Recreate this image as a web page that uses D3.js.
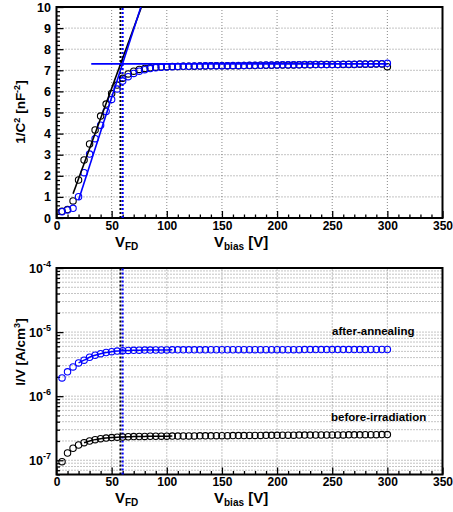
<!DOCTYPE html>
<html><head><meta charset="utf-8">
<script src="https://cdn.jsdelivr.net/npm/d3@7"></script>
<style>
body{margin:0;background:#fff}
svg{display:block}
text{font-family:"Liberation Sans",Arial,Helvetica,sans-serif;font-weight:bold;fill:#000}
</style>
</head><body><svg id="c" width="453" height="512"></svg>
<script>
// ---------- data ----------
const voltages = [5,10,15,20,25,30,35,40,45,50,55,60,65,70,75,80,85,90,95,100,
  105,110,115,120,125,130,135,140,145,150,155,160,165,170,175,180,185,190,195,200,
  205,210,215,220,225,230,235,240,245,250,255,260,265,270,275,280,285,290,295,300];

// 1/C^2 [nF^-2]
const cvBefore = [0.32,0.40,0.81,1.80,2.75,3.51,4.17,4.83,5.40,5.90,
  6.30,6.62,6.83,6.96,7.04,7.09,7.12,7.15,7.16,7.17,
  7.18,7.18,7.19,7.19,7.19,7.20,7.20,7.21,7.21,7.21,
  7.22,7.22,7.22,7.23,7.23,7.23,7.24,7.24,7.24,7.25,
  7.25,7.25,7.25,7.26,7.26,7.26,7.27,7.27,7.27,7.27,
  7.28,7.28,7.28,7.28,7.29,7.29,7.29,7.30,7.30,7.17];
const cvAfter = [0.30,0.38,0.46,1.01,2.15,3.03,3.76,4.40,5.05,5.62,
  6.11,6.49,6.70,6.85,6.96,7.03,7.08,7.12,7.14,7.16,
  7.17,7.18,7.19,7.19,7.20,7.20,7.21,7.21,7.22,7.22,
  7.22,7.23,7.23,7.23,7.24,7.24,7.24,7.25,7.25,7.25,
  7.26,7.26,7.26,7.26,7.27,7.27,7.27,7.28,7.28,7.28,
  7.28,7.29,7.29,7.29,7.30,7.30,7.30,7.31,7.31,7.33];

// I/V [A/cm^3]
const ivBefore = [0.95e-7,1.30e-7,1.54e-7,1.73e-7,1.88e-7,2.00e-7,2.10e-7,2.17e-7,2.22e-7,2.26e-7,
  2.29e-7,2.31e-7,2.33e-7,2.34e-7,2.35e-7,2.36e-7,2.37e-7,2.37e-7,2.38e-7,2.38e-7,
  2.39e-7,2.39e-7,2.40e-7,2.40e-7,2.40e-7,2.41e-7,2.41e-7,2.41e-7,2.42e-7,2.42e-7,
  2.42e-7,2.43e-7,2.43e-7,2.43e-7,2.44e-7,2.44e-7,2.44e-7,2.45e-7,2.45e-7,2.45e-7,
  2.46e-7,2.46e-7,2.46e-7,2.47e-7,2.47e-7,2.47e-7,2.48e-7,2.48e-7,2.48e-7,2.49e-7,
  2.49e-7,2.49e-7,2.50e-7,2.50e-7,2.50e-7,2.51e-7,2.51e-7,2.51e-7,2.52e-7,2.52e-7];
const ivAfter = [1.93e-6,2.40e-6,2.86e-6,3.30e-6,3.65e-6,4.05e-6,4.35e-6,4.60e-6,4.80e-6,4.95e-6,
  5.05e-6,5.12e-6,5.17e-6,5.20e-6,5.22e-6,5.24e-6,5.25e-6,5.26e-6,5.27e-6,5.27e-6,
  5.28e-6,5.28e-6,5.28e-6,5.29e-6,5.29e-6,5.29e-6,5.29e-6,5.30e-6,5.30e-6,5.30e-6,
  5.30e-6,5.30e-6,5.31e-6,5.31e-6,5.31e-6,5.31e-6,5.31e-6,5.31e-6,5.32e-6,5.32e-6,
  5.32e-6,5.32e-6,5.32e-6,5.32e-6,5.33e-6,5.33e-6,5.33e-6,5.33e-6,5.33e-6,5.33e-6,
  5.34e-6,5.34e-6,5.34e-6,5.34e-6,5.34e-6,5.34e-6,5.35e-6,5.35e-6,5.35e-6,5.35e-6];

// linear fits on 1/C^2 (endpoints in data units)
const fitBeforeV = [15, 77];   const fitBeforeC = [1.15, 10.0];
const fitAfterV  = [20, 76.5]; const fitAfterC  = [0.85, 10.0];
const plateauV = [31.5, 300];  const plateauC = [7.3, 7.3];
// full depletion voltages
const vfdBefore = 58, vfdAfter = 60;
// I-V fit ranges
const ivFitBeforeRange = [25, 105];
const ivFitAfterRange = [20, 105];

const xTicksMajor = [0,50,100,150,200,250,300,350];
const cvTicksMajor = [0,1,2,3,4,5,6,7,8,9,10];
const ivDecades = [-7,-6,-5,-4];
const ivLabels = ["after-annealing","before-irradiation"];

// ---------- drawing ----------
const svg = d3.select("#c");
const BLUE = "#0000ff", BLACK = "#000000", GRID = "#6a6a6a";
const L = 56.5, R = 442.5;
const x = d3.scaleLinear([0,350],[L,R]);
const yTop = d3.scaleLinear([0,10],[218,7]);
const yBot = d3.scaleLog([6e-8,1e-4],[474.5,268]);

const xMinor = d3.range(0,351,10).filter(v=>v%50!==0);

function panel(y, opts){
  const g = svg.append("g");
  const [y0,y1] = y.range();
  const id = "clip"+opts.name;
  svg.append("clipPath").attr("id",id).append("rect")
    .attr("x",L).attr("y",y1).attr("width",R-L).attr("height",y0-y1);
  // grid
  const grid = g.append("g").attr("stroke",GRID).attr("stroke-width",0.8).attr("stroke-dasharray","1,2");
  xTicksMajor.filter(v=>v>0&&v<350).forEach(v=>{
    grid.append("line").attr("x1",x(v)).attr("x2",x(v)).attr("y1",y0).attr("y2",y1);
  });
  opts.hgrid.forEach(v=>{
    grid.append("line").attr("x1",L).attr("x2",R).attr("y1",y(v)).attr("y2",y(v));
  });
  // x axis ticks
  const ax = g.append("g").attr("transform",`translate(0,${y0})`)
    .call(d3.axisBottom(x).tickValues(xTicksMajor).tickSize(-7).tickSizeOuter(0).tickPadding(3).tickFormat(d3.format("d")));
  ax.select(".domain").remove();
  ax.selectAll("line").attr("stroke",BLACK).attr("stroke-width",1.3);
  ax.selectAll("text").attr("font-size",12).attr("font-family",null);
  const axm = g.append("g").attr("transform",`translate(0,${y0})`)
    .call(d3.axisBottom(x).tickValues(xMinor).tickSize(-3.5).tickSizeOuter(0).tickFormat(""));
  axm.select(".domain").remove();
  axm.selectAll("line").attr("stroke",BLACK).attr("stroke-width",1.3);
  // y axis ticks
  const ay = g.append("g").attr("transform",`translate(${L},0)`)
    .call(d3.axisLeft(y).tickValues(opts.yMajor).tickSize(-7).tickSizeOuter(0).tickPadding(5.5).tickFormat(opts.yFmt||""));
  ay.select(".domain").remove();
  ay.selectAll("line").attr("stroke",BLACK).attr("stroke-width",1.3);
  ay.selectAll("text").attr("font-size",12.5).attr("font-family",null);
  const aym = g.append("g").attr("transform",`translate(${L},0)`)
    .call(d3.axisLeft(y).tickValues(opts.yMinor).tickSize(-3.5).tickSizeOuter(0).tickFormat(""));
  aym.select(".domain").remove();
  aym.selectAll("line").attr("stroke",BLACK).attr("stroke-width",1.3);
  // frame
  g.append("rect").attr("x",L).attr("y",y1).attr("width",R-L).attr("height",y0-y1)
    .attr("fill","none").attr("stroke",BLACK).attr("stroke-width",2);
  // vertical V_FD lines
  [[vfdBefore,BLACK],[vfdAfter,BLUE]].forEach(([v,c])=>{
    g.append("line").attr("x1",x(v)).attr("x2",x(v)).attr("y1",y0).attr("y2",y1)
      .attr("stroke",c).attr("stroke-width",2).attr("stroke-dasharray","2,2");
  });
  // x axis title
  const tf = g.append("text").attr("x",115).attr("y",y0+28.5).attr("font-size",15);
  tf.append("tspan").text("V");
  tf.append("tspan").attr("font-size",10).attr("dy",3).text("FD");
  const tb = g.append("text").attr("x",214).attr("y",y0+28.5).attr("font-size",15);
  tb.append("tspan").text("V");
  tb.append("tspan").attr("font-size",10).attr("dy",3).text("bias");
  tb.append("tspan").attr("dy",-3).text(" [V]");
  return {g, clip:`url(#${id})`};
}

// ---- top panel ----
const topP = panel(yTop,{name:"top", hgrid:[1,2,3,4,5,6,7,8,9],
  yMajor:cvTicksMajor, yMinor:d3.range(0,10.01,0.2).filter(v=>Math.abs(v-Math.round(v))>1e-6),
  yFmt:d3.format("d")});
{
  const t = topP.g.append("text").attr("transform","translate(25,112) rotate(-90)")
    .attr("text-anchor","middle").attr("font-size",13.5);
  t.append("tspan").text("1/C");
  t.append("tspan").attr("font-size",9).attr("dy",-5).text("2");
  t.append("tspan").attr("dy",5).text(" [nF");
  t.append("tspan").attr("font-size",9).attr("dy",-5).text("-2");
  t.append("tspan").attr("dy",5).text("]");
}
const cvB = voltages.map((v,i)=>({v, c:cvBefore[i]}));
const cvA = voltages.map((v,i)=>({v, c:cvAfter[i]}));
topP.g.append("g").selectAll("circle").data(cvB).join("circle")
  .attr("cx",d=>x(d.v)).attr("cy",d=>yTop(d.c)).attr("r",3.2)
  .attr("fill","none").attr("stroke",BLACK).attr("stroke-width",1.1);
topP.g.append("g").selectAll("circle").data(cvA).join("circle")
  .attr("cx",d=>x(d.v)).attr("cy",d=>yTop(d.c)).attr("r",3.2)
  .attr("fill","none").attr("stroke",BLUE).attr("stroke-width",1.1);
const lineTop = d3.line().x(d=>x(d[0])).y(d=>yTop(d[1]));
const fits = topP.g.append("g").attr("clip-path",topP.clip).attr("fill","none");
fits.append("path").attr("d",lineTop(fitBeforeV.map((v,i)=>[v,fitBeforeC[i]])))
  .attr("stroke",BLACK).attr("stroke-width",1.6);
fits.append("path").attr("d",lineTop(fitAfterV.map((v,i)=>[v,fitAfterC[i]])))
  .attr("stroke",BLUE).attr("stroke-width",1.6);
fits.append("path").attr("d",lineTop(plateauV.map((v,i)=>[v,plateauC[i]])))
  .attr("stroke",BLUE).attr("stroke-width",1.8);

// ---- bottom panel ----
const logMajor = ivDecades.map(e=>Math.pow(10,e));
const logMinor = [];
[-8,-7,-6,-5].forEach(e=>{ for(let k=2;k<=9;k++){ const v=k*Math.pow(10,e); if(v>=6e-8 && v<1e-4) logMinor.push(v);} });
const botP = panel(yBot,{name:"bot", hgrid:logMinor.concat(logMajor.filter(v=>v<1e-4)),
  yMajor:logMajor, yMinor:logMinor, yFmt:()=>""});
ivDecades.forEach(e=>{
  const t = botP.g.append("text").attr("x",51).attr("y",yBot(Math.pow(10,e))+4.5)
    .attr("text-anchor","end").attr("font-size",12.5);
  t.append("tspan").text("10");
  t.append("tspan").attr("font-size",9).attr("dy",-5.5).text(String(e));
});
{
  const t = botP.g.append("text").attr("transform","translate(25,352) rotate(-90)")
    .attr("text-anchor","middle").attr("font-size",13.5);
  t.append("tspan").text("I/V [A/cm");
  t.append("tspan").attr("font-size",9).attr("dy",-5).text("3");
  t.append("tspan").attr("dy",5).text("]");
}
const ivB = voltages.map((v,i)=>({v, c:ivBefore[i]}));
const ivA = voltages.map((v,i)=>({v, c:ivAfter[i]}));
botP.g.append("g").selectAll("circle").data(ivB).join("circle")
  .attr("cx",d=>x(d.v)).attr("cy",d=>yBot(d.c)).attr("r",3.2)
  .attr("fill","none").attr("stroke",BLACK).attr("stroke-width",1.1);
botP.g.append("g").selectAll("circle").data(ivA).join("circle")
  .attr("cx",d=>x(d.v)).attr("cy",d=>yBot(d.c)).attr("r",3.2)
  .attr("fill","none").attr("stroke",BLUE).attr("stroke-width",1.1);
const lineBot = d3.line().x(d=>x(d.v)).y(d=>yBot(d.c)).curve(d3.curveMonotoneX);
botP.g.append("path").attr("d",lineBot(ivB.filter(d=>d.v>=ivFitBeforeRange[0]&&d.v<=ivFitBeforeRange[1])))
  .attr("fill","none").attr("stroke",BLACK).attr("stroke-width",1.5);
botP.g.append("path").attr("d",lineBot(ivA.filter(d=>d.v>=ivFitAfterRange[0]&&d.v<=ivFitAfterRange[1])))
  .attr("fill","none").attr("stroke",BLUE).attr("stroke-width",1.5);
botP.g.append("text").attr("x",332).attr("y",335).attr("font-size",11.5).text(ivLabels[0]);
botP.g.append("text").attr("x",331).attr("y",421).attr("font-size",11.5).text(ivLabels[1]);
</script>
</body></html>
